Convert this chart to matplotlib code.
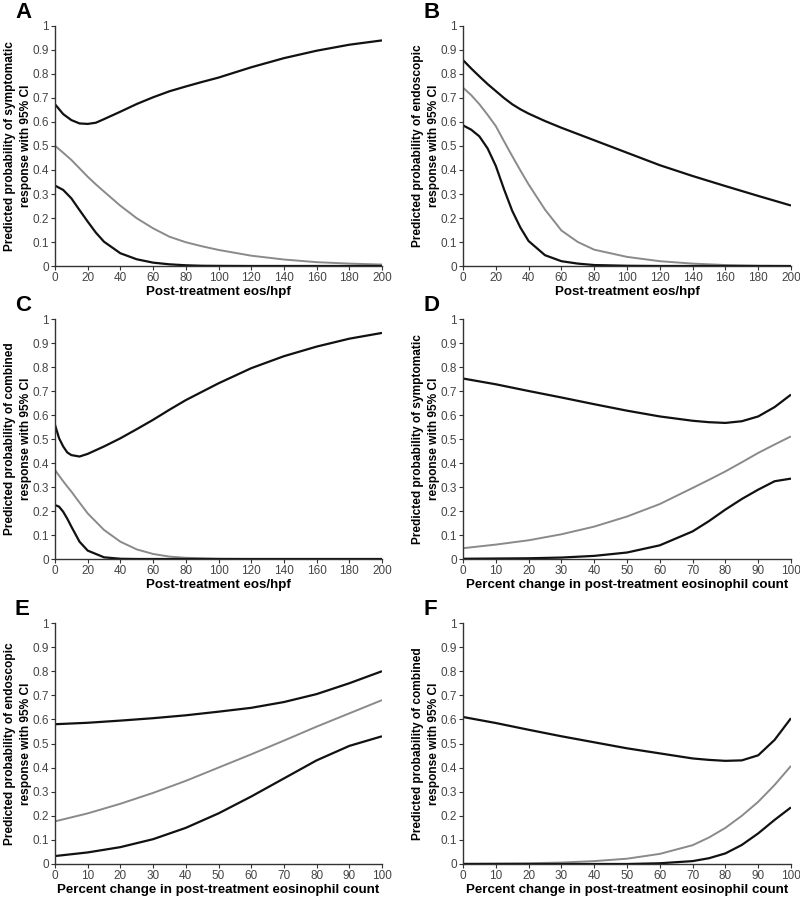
import matplotlib
matplotlib.use("Agg")
import matplotlib.pyplot as plt

plt.rcParams['font.family'] = ['Liberation Sans', 'DejaVu Sans']

# ---------------- data ----------------
# Panel A: symptomatic response vs post-treatment eos/hpf
xA = [0, 5, 10, 15, 20, 25, 30, 40, 50, 60, 70, 80, 90, 100, 120, 140, 160, 180, 200]
A_upper = [0.674, 0.633, 0.608, 0.594, 0.592, 0.597, 0.612, 0.643, 0.675, 0.703, 0.728, 0.748, 0.767, 0.785, 0.828, 0.866, 0.897, 0.922, 0.940]
A_est   = [0.501, 0.472, 0.442, 0.407, 0.372, 0.340, 0.310, 0.251, 0.199, 0.157, 0.122, 0.099, 0.082, 0.067, 0.043, 0.027, 0.016, 0.010, 0.006]
A_lower = [0.335, 0.317, 0.282, 0.233, 0.185, 0.139, 0.101, 0.053, 0.028, 0.014, 0.007, 0.003, 0.001, 0.0005, 0.0, 0.0, 0.0, 0.0, 0.0]

# Panel B: endoscopic response vs post-treatment eos/hpf
xB = [0, 5, 10, 15, 20, 25, 30, 35, 40, 50, 60, 70, 80, 100, 120, 140, 160, 180, 200]
B_upper = [0.858, 0.823, 0.790, 0.758, 0.729, 0.700, 0.674, 0.653, 0.635, 0.604, 0.576, 0.550, 0.524, 0.472, 0.420, 0.375, 0.333, 0.292, 0.252]
B_est   = [0.743, 0.712, 0.674, 0.630, 0.583, 0.520, 0.458, 0.398, 0.340, 0.235, 0.148, 0.100, 0.068, 0.038, 0.020, 0.010, 0.004, 0.001, 0.0]
B_lower = [0.586, 0.568, 0.540, 0.490, 0.417, 0.320, 0.230, 0.160, 0.104, 0.045, 0.020, 0.010, 0.004, 0.001, 0.0, 0.0, 0.0, 0.0, 0.0]

# Panel C: combined response vs post-treatment eos/hpf
xC = [0, 2.5, 5, 7.5, 10, 15, 20, 30, 40, 50, 60, 70, 80, 100, 120, 140, 160, 180, 200]
C_upper = [0.559, 0.503, 0.469, 0.444, 0.433, 0.427, 0.438, 0.469, 0.503, 0.541, 0.580, 0.622, 0.662, 0.732, 0.795, 0.845, 0.885, 0.918, 0.942]
C_est   = [0.371, 0.347, 0.324, 0.302, 0.281, 0.235, 0.190, 0.121, 0.072, 0.040, 0.021, 0.010, 0.005, 0.001, 0.0, 0.0, 0.0, 0.0, 0.0]
C_lower = [0.225, 0.218, 0.197, 0.168, 0.135, 0.072, 0.035, 0.007, 0.001, 0.0, 0.0, 0.0, 0.0, 0.0, 0.0, 0.0, 0.0, 0.0, 0.0]

# Panel D: symptomatic response vs percent change in eosinophil count
xD = [0, 10, 20, 30, 40, 50, 60, 70, 75, 80, 85, 90, 95, 100]
D_upper = [0.752, 0.728, 0.700, 0.673, 0.645, 0.618, 0.594, 0.576, 0.570, 0.567, 0.574, 0.594, 0.633, 0.685]
D_est   = [0.045, 0.060, 0.078, 0.103, 0.135, 0.177, 0.229, 0.296, 0.330, 0.365, 0.403, 0.442, 0.477, 0.511]
D_lower = [0.001, 0.002, 0.003, 0.006, 0.013, 0.027, 0.057, 0.115, 0.158, 0.206, 0.250, 0.289, 0.324, 0.335]

# Panel E: endoscopic response vs percent change in eosinophil count
xE = [0, 10, 20, 30, 40, 50, 60, 70, 80, 90, 100]
E_upper = [0.580, 0.586, 0.595, 0.605, 0.617, 0.632, 0.648, 0.672, 0.705, 0.750, 0.800]
E_est   = [0.177, 0.210, 0.250, 0.295, 0.345, 0.400, 0.455, 0.512, 0.570, 0.625, 0.680]
E_lower = [0.033, 0.048, 0.070, 0.103, 0.150, 0.210, 0.280, 0.355, 0.430, 0.490, 0.530]

# Panel F: combined response vs percent change in eosinophil count
xF = [0, 10, 20, 30, 40, 50, 60, 70, 75, 80, 85, 90, 95, 100]
F_upper = [0.610, 0.585, 0.557, 0.530, 0.505, 0.480, 0.459, 0.438, 0.432, 0.428, 0.430, 0.451, 0.515, 0.605]
F_est   = [0.001, 0.002, 0.003, 0.006, 0.012, 0.022, 0.042, 0.078, 0.110, 0.150, 0.200, 0.258, 0.328, 0.407]
F_lower = [0.0, 0.0, 0.0, 0.0, 0.0, 0.0, 0.003, 0.012, 0.024, 0.044, 0.079, 0.127, 0.183, 0.235]

letters = ['A', 'B', 'C', 'D', 'E', 'F']
ylabels = ['Predicted probability of symptomatic\nresponse with 95% CI',
           'Predicted probability of endoscopic\nresponse with 95% CI',
           'Predicted probability of combined\nresponse with 95% CI',
           'Predicted probability of symptomatic\nresponse with 95% CI',
           'Predicted probability of endoscopic\nresponse with 95% CI',
           'Predicted probability of combined\nresponse with 95% CI']
xlabels = ['Post-treatment eos/hpf'] * 3 + ['Percent change in post-treatment eosinophil count'] * 3
yticks = [0, 0.1, 0.2, 0.3, 0.4, 0.5, 0.6, 0.7, 0.8, 0.9, 1]
ytick_labels = ['0', '0.1', '0.2', '0.3', '0.4', '0.5', '0.6', '0.7', '0.8', '0.9', '1']
xticks_eos = [0, 20, 40, 60, 80, 100, 120, 140, 160, 180, 200]
xticks_pct = [0, 10, 20, 30, 40, 50, 60, 70, 80, 90, 100]

panels = [
    (xA, A_upper, A_est, A_lower, xticks_eos),
    (xB, B_upper, B_est, B_lower, xticks_eos),
    (xC, C_upper, C_est, C_lower, xticks_eos),
    (xD, D_upper, D_est, D_lower, xticks_pct),
    (xE, E_upper, E_est, E_lower, xticks_pct),
    (xF, F_upper, F_est, F_lower, xticks_pct),
]

# ---------------- layout ----------------
W, H = 800, 898
fig = plt.figure(figsize=(W / 100, H / 100), dpi=100)
lefts = [55, 463]
rights = [382, 791]
tops = [26, 319, 623]
bottoms = [266, 559, 864]

for i, (x, up, est, lo, xt) in enumerate(panels):
    r, c = divmod(i, 2)
    l, rr = lefts[c], rights[c]
    t, b = tops[r], bottoms[r]
    ax = fig.add_axes([l / W, 1 - b / H, (rr - l) / W, (b - t) / H])
    ax.plot(x, up, color='#111111', lw=1.6, solid_capstyle='butt')
    ax.plot(x, est, color='#8a8a8a', lw=1.4, solid_capstyle='butt')
    ax.plot(x, lo, color='#111111', lw=1.6, solid_capstyle='butt')
    ax.set_xlim(xt[0], xt[-1])
    ax.set_ylim(0, 1)
    ax.set_xticks(xt)
    ax.set_xticklabels([str(v) for v in xt])
    ax.set_yticks(yticks)
    ax.set_yticklabels(ytick_labels)
    for s in ['top', 'right']:
        ax.spines[s].set_visible(False)
    for s in ['left', 'bottom']:
        ax.spines[s].set_color('#333333')
        ax.spines[s].set_linewidth(1.0)
    ax.tick_params(direction='out', length=3, width=0.8, color='#333333',
                   labelsize=8.5, labelcolor='#444444', pad=1.5)
    ax.set_xlabel(xlabels[i], fontsize=9.6, fontweight='bold', labelpad=1)
    ax.set_ylabel(ylabels[i], fontsize=8.6, fontweight='bold', labelpad=0.5,
                  linespacing=1.45)
    ax.text((l - 40) / W, 1 - (t - 24) / H, letters[i], transform=fig.transFigure,
            fontsize=16, fontweight='bold', va='top', ha='left')

fig.savefig('out.png', dpi=100)
